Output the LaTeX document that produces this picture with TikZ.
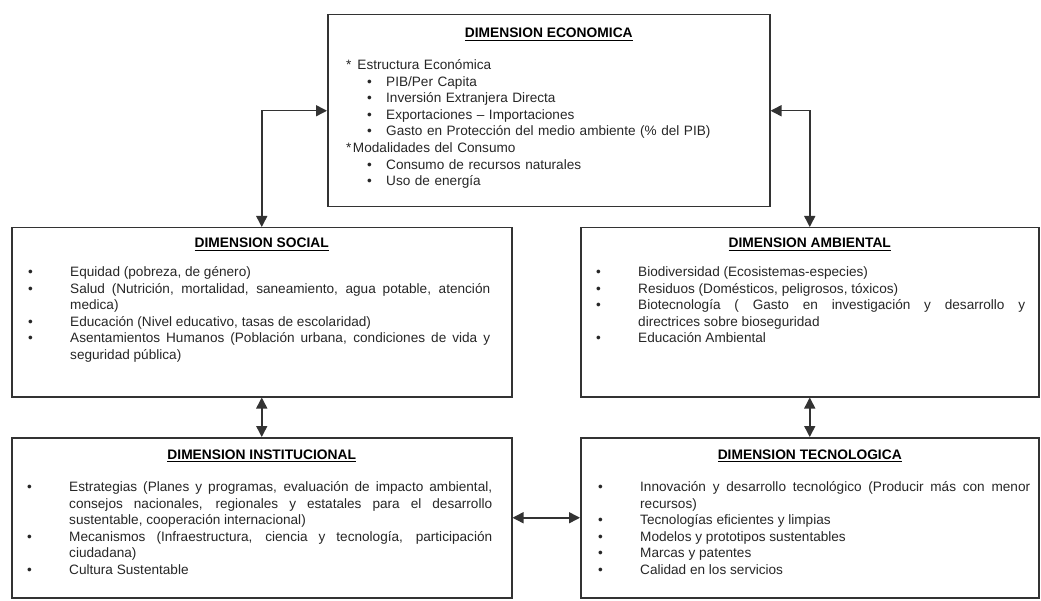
\documentclass[tikz,border=0pt]{standalone}
\usepackage{fontspec}
\setmainfont{Liberation Sans}
\usetikzlibrary{arrows.meta}

\hyphenpenalty=10000
\exhyphenpenalty=10000
% underlined heading
\newcommand{\hd}[1]{\setbox0\hbox{#1}\rlap{\rule[-3pt]{\wd0}{1.3pt}}\box0}
% one bullet item with hanging indent
\newcommand{\itm}[1]{\hangindent=42pt\hangafter=1\makebox[42pt][l]{\textbullet}#1\par}
% one item of the economic box
\newcommand{\sub}[1]{\hspace*{21pt}\makebox[19pt][l]{\textbullet}#1}

\begin{document}
\begin{tikzpicture}[x=1pt, y=-1pt,
    every node/.style={font=\fontsize{13.6}{16.6}\selectfont},
    box/.style={draw=black!80, line width=1.5pt, anchor=north west, inner sep=0pt},
    head/.style={font=\fontsize{13.8}{16.6}\selectfont\bfseries, anchor=base},
    list/.style={anchor=base west, align=justify, inner sep=0pt, text=black!85},
    link/.style={{Triangle[length=11pt,width=11pt]}-{Triangle[length=11pt,width=11pt]},
      line width=1.5pt, draw=black!80}]
  \useasboundingbox (0,0) rectangle (1041,601);

  \node[box, minimum width=442pt, minimum height=192pt] (eco) at (327,14) {};
  \node[box, minimum width=500pt, minimum height=169pt] (soc) at (11,227) {};
  \node[box, minimum width=458pt, minimum height=169pt] (amb) at (580,227) {};
  \node[box, minimum width=500pt, minimum height=160pt] (ins) at (11,437) {};
  \node[box, minimum width=458pt, minimum height=160pt] (tec) at (580,437) {};

  \node[head] (ecohead) at ([yshift=-24pt]eco.north) {\hd{DIMENSION ECONOMICA}};
  \node[head] (sochead) at ([yshift=-21pt]soc.north) {\hd{DIMENSION SOCIAL}};
  \node[head] (ambhead) at ([yshift=-21pt]amb.north) {\hd{DIMENSION AMBIENTAL}};
  \node[head] (inshead) at ([yshift=-22pt]ins.north) {\hd{DIMENSION INSTITUCIONAL}};
  \node[head] (techead) at ([yshift=-22pt]tec.north) {\hd{DIMENSION TECNOLOGICA}};

  \node[list, align=left, text width=410pt] (ecolist) at ([xshift=19pt, yshift=-55.5pt]eco.north west) {%
    {*}\hspace{6pt}Estructura Económica\\
    \sub{PIB/Per Capita}\\
    \sub{Inversión Extranjera Directa}\\
    \sub{Exportaciones -- Importaciones}\\
    \sub{Gasto en Protección del medio ambiente (\% del PIB)}\\
    {*}\hspace{1.5pt}Modalidades del Consumo\\
    \sub{Consumo de recursos naturales}\\
    \sub{Uso de energía}};

  \node[list, text width=462pt] (soclist) at ([xshift=17pt, yshift=-49.5pt]soc.north west) {%
    \itm{Equidad (pobreza, de género)}
    \itm{Salud (Nutrición, mortalidad, saneamiento, agua potable, atención medica)}
    \itm{Educación (Nivel educativo, tasas de escolaridad)}
    \itm{Asentamientos Humanos (Población urbana, condiciones de vida y seguridad pública)}};

  \node[list, text width=429pt] (amblist) at ([xshift=16pt, yshift=-49.5pt]amb.north west) {%
    \itm{Biodiversidad (Ecosistemas-especies)}
    \itm{Residuos (Domésticos, peligrosos, tóxicos)}
    \itm{Biotecnología ( Gasto en investigación y desarrollo y\linebreak directrices sobre bioseguridad}
    \itm{Educación Ambiental}};

  \node[list, text width=465pt] (inslist) at ([xshift=16pt, yshift=-54.5pt]ins.north west) {%
    \itm{Estrategias (Planes y programas, evaluación de impacto ambiental, consejos nacionales, regionales y estatales para el desarrollo sustentable, cooperación internacional)}
    \itm{Mecanismos (Infraestructura, ciencia y tecnología, participación ciudadana)}
    \itm{Cultura Sustentable}};

  \node[list, text width=432pt] (teclist) at ([xshift=18pt, yshift=-54.5pt]tec.north west) {%
    \itm{Innovación y desarrollo tecnológico (Producir más con menor recursos)}
    \itm{Tecnologías eficientes y limpias}
    \itm{Modelos y prototipos sustentables}
    \itm{Marcas y patentes}
    \itm{Calidad en los servicios}};

  \draw[link] (soc.north) |- (eco.west);
  \draw[link] (amb.north) |- (eco.east);
  \draw[link] (soc.south) -- (ins.north);
  \draw[link] (amb.south) -- (tec.north);
  \draw[link] (ins.east) -- (tec.west);
\end{tikzpicture}
\end{document}
